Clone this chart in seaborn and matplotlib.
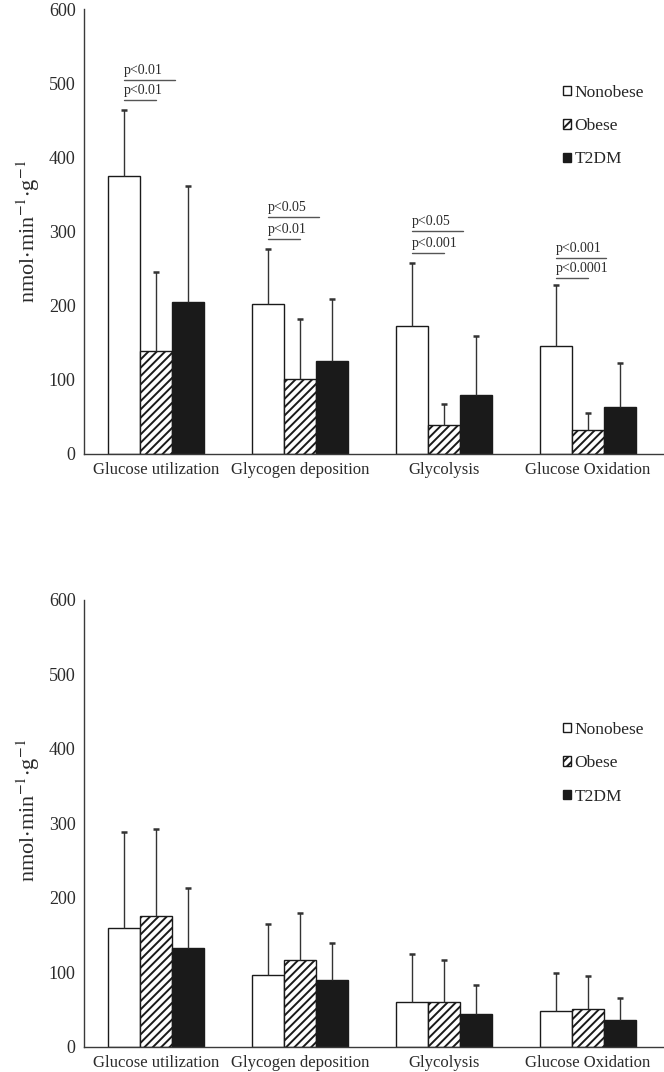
import numpy as np
import pandas as pd
import matplotlib
matplotlib.use("Agg")
import matplotlib.pyplot as plt
import seaborn as sns

# ---------------------------------------------------------
# DATA
# ---------------------------------------------------------
categories = ["Glucose utilization", "Glycogen deposition", "Glycolysis", "Glucose Oxidation"]
groups = ["Nonobese", "Obese", "T2DM"]

# top panel: means and upper SD
top_nonobese = [375, 202, 173, 146]
top_obese = [139, 101, 39, 32]
top_t2dm = [205, 126, 79, 63]
top_nonobese_sd = [89, 75, 84, 82]
top_obese_sd = [106, 81, 28, 23]
top_t2dm_sd = [156, 83, 80, 60]

# bottom panel: means and upper SD
bot_nonobese = [159, 96, 60, 48]
bot_obese = [176, 117, 60, 50]
bot_t2dm = [132, 90, 44, 36]
bot_nonobese_sd = [130, 69, 65, 51]
bot_obese_sd = [116, 63, 56, 45]
bot_t2dm_sd = [81, 49, 39, 30]

# significance labels for the top panel (upper, lower)
p_upper = ["p<0.01", "p<0.05", "p<0.05", "p<0.001"]
p_lower = ["p<0.01", "p<0.01", "p<0.001", "p<0.0001"]
p_upper_y = [504, 319, 301, 265]
p_lower_y = [478, 290, 271, 238]

y_ticks = [0, 100, 200, 300, 400, 500, 600]

# ---------------------------------------------------------
# STYLE
# ---------------------------------------------------------
sns.set_style("white")
plt.rcParams["font.family"] = ["Liberation Serif", "DejaVu Serif"]
plt.rcParams["mathtext.fontset"] = "stix"
plt.rcParams["hatch.linewidth"] = 1.4

axis_col = "#3a3a3a"
text_col = "#2b2b2b"
bar_colors = ["white", "white", "#1a1a1a"]


def long_table(a, b, c):
    return pd.DataFrame({
        "category": categories * 3,
        "group": [groups[0]] * 4 + [groups[1]] * 4 + [groups[2]] * 4,
        "value": list(a) + list(b) + list(c),
    })


def draw_panel(ax, df, sds, legend_anchor, label_y):
    sns.barplot(
        data=df, x="category", y="value", hue="group",
        order=categories, hue_order=groups,
        palette=bar_colors, width=0.667, errorbar=None,
        edgecolor="#1a1a1a", linewidth=1.0, saturation=1,
        legend=False, ax=ax,
    )
    # hatch on obese bars
    for patch in ax.containers[1]:
        patch.set_hatch("////")

    # one-sided error bars (line up from the bar top + small cap)
    for cont, sd in zip(ax.containers, sds):
        xs = np.array([p.get_x() + p.get_width() / 2 for p in cont])
        hs = np.array([p.get_height() for p in cont])
        tops = hs + np.array(sd)
        ax.vlines(xs, hs, tops, color="#333333", lw=1.0, zorder=1)
        ax.plot(xs, tops, ls="none", marker="_", ms=4.5, mew=1.8,
                color="#333333", zorder=1)

    ax.set_xlim(-0.5, 3.53)
    ax.set_ylim(0, 600)
    ax.set_yticks(y_ticks)
    ax.set_xlabel("")
    ax.set_ylabel(r"nmol$\cdot$min$^{-1}$$\cdot$g$^{-1}$", fontsize=16,
                  color=text_col)
    ax.yaxis.set_label_coords(-0.072, label_y)
    ax.tick_params(axis="y", direction="out", length=4, width=0.8,
                   colors=axis_col, labelsize=13, labelcolor=text_col, pad=2)
    ax.tick_params(axis="x", length=0, labelsize=12, labelcolor=text_col, pad=6)
    sns.despine(ax=ax)
    for s in ["left", "bottom"]:
        ax.spines[s].set_color(axis_col)
        ax.spines[s].set_linewidth(1.0)

    ax.legend(handles=ax.containers, labels=groups, loc="upper left",
              bbox_to_anchor=legend_anchor, frameon=False, fontsize=12.5,
              handlelength=0.45, handleheight=0.45, handletextpad=0.2,
              labelspacing=1.0, borderpad=0, borderaxespad=0)


fig = plt.figure(figsize=(6.64, 10.72), dpi=100)

ax1 = fig.add_axes([0.1265, 0.5765, 0.8735, 0.415])
draw_panel(ax1, long_table(top_nonobese, top_obese, top_t2dm),
           [top_nonobese_sd, top_obese_sd, top_t2dm_sd], (0.826, 0.83), 0.5)

# significance brackets
for i in range(len(categories)):
    x0 = i - 0.222
    ax1.plot([x0, i + 0.13], [p_upper_y[i], p_upper_y[i]], color="#555555", lw=1.0)
    ax1.plot([x0, i], [p_lower_y[i], p_lower_y[i]], color="#555555", lw=1.0)
    ax1.text(x0, p_upper_y[i] + 4, p_upper[i], fontsize=10, color=text_col,
             ha="left", va="bottom")
    ax1.text(x0, p_lower_y[i] + 4, p_lower[i], fontsize=10, color=text_col,
             ha="left", va="bottom")

ax2 = fig.add_axes([0.1265, 0.0236, 0.8735, 0.4167])
draw_panel(ax2, long_table(bot_nonobese, bot_obese, bot_t2dm),
           [bot_nonobese_sd, bot_obese_sd, bot_t2dm_sd], (0.826, 0.727), 0.53)

fig.savefig("out.png", dpi=100)
